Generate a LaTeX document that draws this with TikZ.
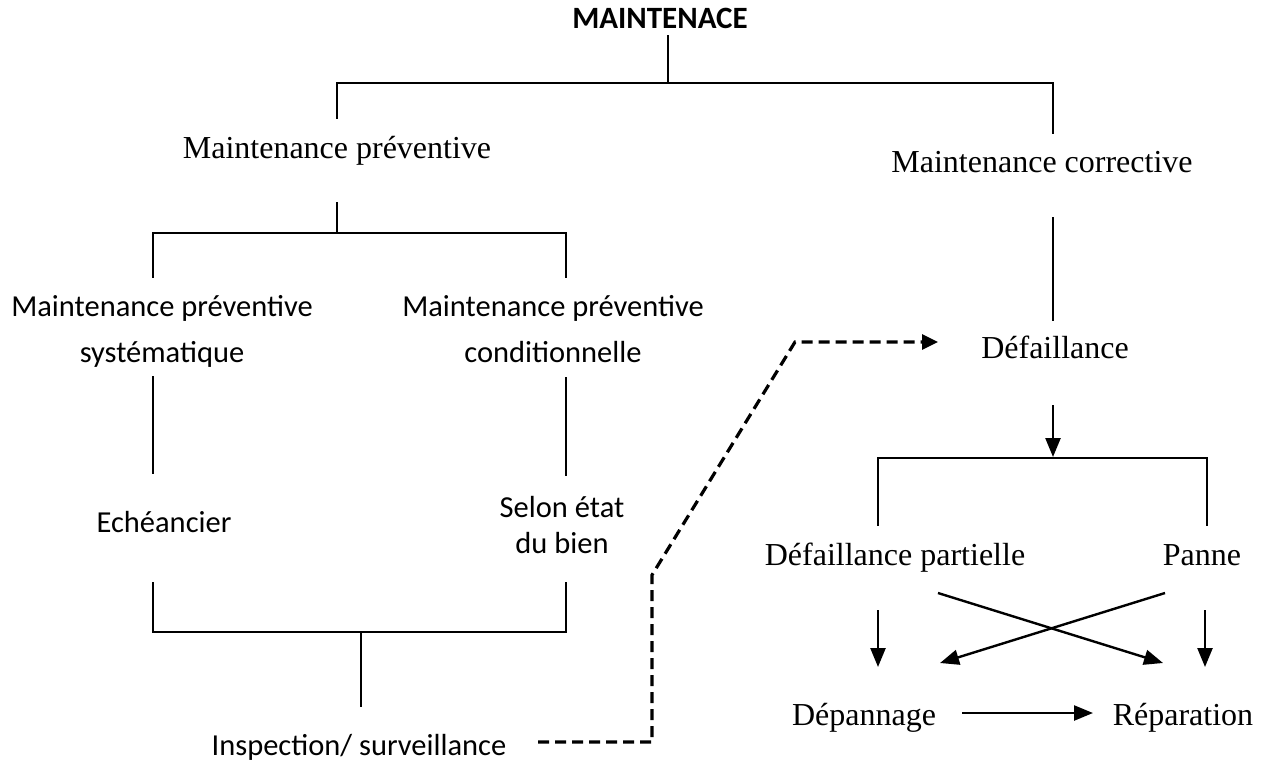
\documentclass[tikz,border=0pt]{standalone}
\usepackage{fontspec}
\usetikzlibrary{arrows.meta}
\newfontfamily\timesfont{Liberation Serif}
\newfontfamily\calfont{Carlito}
\tikzset{
  x=1pt, y=-1pt,
  tree/.style={line width=2.8pt, line cap=rect},
  tms/.style={font=\timesfont\fontsize{32}{38}\selectfont, anchor=base, inner sep=0pt},
  cal/.style={font=\calfont\fontsize{30.5}{46}\selectfont, anchor=base, inner sep=0pt, align=center},
  calbold/.style={font=\calfont\bfseries\fontsize{31}{38}\selectfont, anchor=base, inner sep=0pt},
  arr/.style={line width=2.4pt, -{Triangle[length=19pt,width=15pt]}},
  dashlink/.style={line width=3.2pt, dash pattern=on 11pt off 6pt, -{Triangle[length=16pt,width=15pt]}}
}
\begin{document}
\begin{tikzpicture}
\useasboundingbox (0,0) rectangle (1266,764);

% labels (multi-line labels sit on the baseline of their last line)
\node[calbold] (root) at (660,28) {MAINTENACE};
\node[tms] (prev) at (337,158) {Maintenance préventive};
\node[tms] (corr) at (1042,172) {Maintenance corrective};
\node[cal] (sys) at (162,362) {Maintenance préventive\\systématique};
\node[cal] (cond) at (553,362) {Maintenance préventive\\conditionnelle};
\node[cal] (ech) at (164,532) {Echéancier};
\node[cal, font=\calfont\fontsize{30.5}{36}\selectfont] (etat) at (562,553) {Selon état\\du bien};
\node[cal] (insp) at (359,755) {Inspection/ surveillance};
\node[tms] (def) at (1055,358) {Défaillance};
\node[tms] (part) at (895,565) {Défaillance partielle};
\node[tms] (panne) at (1202,565) {Panne};
\node[tms] (dep) at (864,725) {Dépannage};
\node[tms] (rep) at (1183,725) {Réparation};

% junction points of the tree
\coordinate (r0) at (668,36);   \coordinate (r1) at (668,83);
\coordinate (rl) at (337,83);   \coordinate (rr) at (1053,83);
\coordinate (pl) at (337,118);  \coordinate (cr) at (1053,133);
\coordinate (p0) at (337,203);  \coordinate (p1) at (337,233);
\coordinate (pa) at (153,233);  \coordinate (pb) at (566,233);
\coordinate (pa1) at (153,277); \coordinate (pb1) at (566,277);
\coordinate (sa0) at (153,377); \coordinate (sa1) at (153,473);
\coordinate (sb0) at (566,378); \coordinate (sb1) at (566,475);
\coordinate (ea) at (153,583);  \coordinate (eb) at (566,583);
\coordinate (ja) at (153,632);  \coordinate (jb) at (566,632);
\coordinate (i0) at (361,632);  \coordinate (i1) at (361,706);
\coordinate (c0) at (1053,218); \coordinate (c1) at (1053,320);
\coordinate (d0) at (1053,405); \coordinate (d1) at (1053,457);
\coordinate (fa) at (878,458);  \coordinate (fb) at (1207,458);
\coordinate (fa1) at (878,525); \coordinate (fb1) at (1207,525);

% tree connectors
\draw[tree] (r0) -- (r1);
\draw[tree] (pl) -- (rl) -- (rr) -- (cr);
\draw[tree] (p0) -- (p1);
\draw[tree] (pa1) -- (pa) -- (pb) -- (pb1);
\draw[tree] (sa0) -- (sa1);
\draw[tree] (sb0) -- (sb1);
\draw[tree] (ea) -- (ja) -- (jb) -- (eb);
\draw[tree] (i0) -- (i1);
\draw[tree] (c0) -- (c1);
\draw[arr] (d0) -- (d1);
\draw[tree] (fa1) -- (fa) -- (fb) -- (fb1);

% outcomes of a failure
\coordinate (pa2) at (878,610);  \coordinate (pa3) at (878,667);
\coordinate (pn2) at (1205,610); \coordinate (pn3) at (1205,667);
\coordinate (xa0) at (938,593);  \coordinate (xa1) at (1163,663);
\coordinate (xb0) at (1165,593); \coordinate (xb1) at (940,663);
\coordinate (h0) at (962,713);   \coordinate (h1) at (1093,713);
\draw[arr] (pa2) -- (pa3);
\draw[arr] (pn2) -- (pn3);
\draw[arr] (xa0) -- (xa1);
\draw[arr] (xb0) -- (xb1);
\draw[arr] (h0) -- (h1);

% inspection feeds failure detection
\coordinate (k0) at (538,742); \coordinate (k1) at (652,742);
\coordinate (k2) at (652,575); \coordinate (k3) at (795,342);
\coordinate (k4) at (938,342);
\draw[dashlink] (k0) -- (k1) -- (k2) -- (k3) -- (k4);
\end{tikzpicture}
\end{document}
